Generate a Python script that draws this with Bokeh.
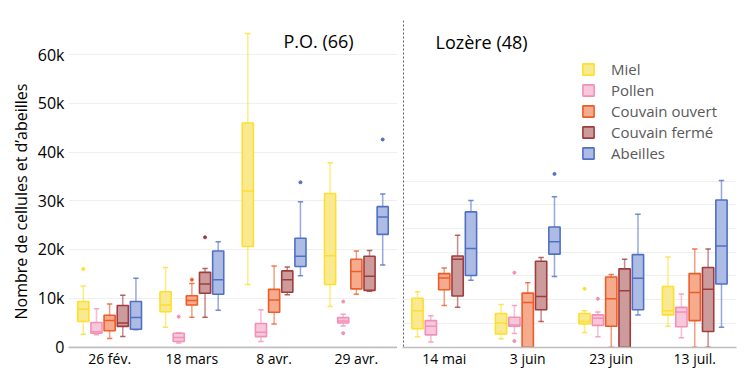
from bokeh.plotting import figure
from bokeh.models import Range1d, FixedTicker, Label, Span, Legend, LegendItem, Title
from bokeh.layouts import row
from bokeh.embed import file_html
from bokeh.resources import INLINE

FONT = "Open Sans"

# ---------------- data (values in thousands) ----------------
series = ["Miel", "Pollen", "Couvain ouvert", "Couvain fermé", "Abeilles"]
line_colors = ["#FDDF2E", "#F291B8", "#EE5C28", "#A23C3C", "#5070C4"]
fill_colors = ["#F9E98C", "#F7C4D9", "#F3A688", "#C99696", "#A9B8E3"]

po_dates = ["26 fév.", "18 mars", "8 avr.", "29 avr."]
lz_dates = ["14 mai", "3 juin", "23 juin", "13 juil."]

y_ticks = [0, 10, 20, 30, 40, 50, 60]
y_tick_labels = ["0", "10k", "20k", "30k", "40k", "50k", "60k"]
lz_grid_ticks = [0, 5, 10, 15, 20, 25, 30, 35]

# P.O. (66): per series, one value per date
po_lo = [[2.6, 4.0, 12.8, 8.3],
         [2.5, 0.8, 1.1, 4.3],
         [1.7, 6.1, 4.7, 10.8],
         [2.1, 6.1, 10.7, 11.4],
         [3.5, 7.5, 14.6, 16.8]]
po_q1 = [[5.2, 7.2, 20.6, 12.8],
         [2.8, 1.1, 2.1, 4.9],
         [3.3, 8.6, 7.1, 11.9],
         [4.2, 11.0, 11.2, 11.6],
         [3.6, 10.8, 16.5, 23.1]]
po_med = [[7.7, 8.6, 32.0, 18.7],
          [3.1, 1.9, 3.0, 5.3],
          [5.4, 9.5, 9.6, 15.5],
          [4.9, 12.9, 13.8, 14.5],
          [6.0, 13.8, 18.6, 26.7]]
po_q3 = [[9.3, 11.3, 46.0, 31.5],
         [5.0, 2.8, 4.8, 6.0],
         [6.5, 10.5, 11.8, 18.0],
         [8.5, 15.3, 15.6, 18.6],
         [9.3, 19.7, 22.3, 28.8]]
po_hi = [[12.5, 16.3, 64.4, 37.8],
         [7.8, 2.9, 7.6, 6.7],
         [8.8, 13.0, 16.6, 19.7],
         [10.6, 16.1, 16.4, 19.8],
         [14.1, 21.6, 29.8, 31.4]]
po_out_date = [0, 1, 3, 3, 1, 1, 2, 3]
po_out_series = [0, 1, 1, 1, 2, 3, 4, 4]
po_out_value = [16.0, 6.2, 9.3, 2.8, 13.8, 22.5, 33.8, 42.6]

# Lozère (48)
lz_lo = [[2.2, 1.8, 3.1, 4.4],
         [1.1, 2.9, 2.2, 2.0],
         [8.8, 0.0, 0.0, 0.0],
         [8.4, 5.4, 0.0, 0.0],
         [14.1, 14.9, 6.8, 4.2]]
lz_q1 = [[3.9, 2.8, 4.9, 6.8],
         [2.6, 4.4, 4.6, 4.3],
         [12.1, 0.0, 4.4, 5.6],
         [10.8, 7.9, 0.0, 3.3],
         [15.1, 19.6, 7.9, 13.3]]
lz_med = [[7.7, 5.1, 5.4, 7.7],
          [4.4, 4.7, 6.1, 7.4],
          [14.6, 9.4, 10.2, 11.5],
          [18.5, 10.7, 11.9, 12.2],
          [20.8, 22.2, 14.5, 21.3]]
lz_q3 = [[10.3, 7.1, 7.1, 12.8],
         [5.6, 6.3, 6.8, 8.4],
         [15.5, 11.4, 14.8, 15.5],
         [19.2, 18.1, 16.5, 16.8],
         [28.5, 25.3, 19.5, 31.0]]
lz_hi = [[11.7, 9.0, 7.7, 19.0],
         [6.6, 8.8, 7.4, 11.2],
         [16.7, 13.6, 15.3, 20.7],
         [23.6, 18.9, 18.5, 20.7],
         [30.9, 31.7, 28.0, 35.1]]
lz_out_date = [2, 1, 1, 2, 1]
lz_out_series = [0, 1, 1, 1, 4]
lz_out_value = [12.3, 15.7, 1.3, 10.2, 36.5]

OFFSETS = [-0.32, -0.16, 0.0, 0.16, 0.32]
BOX_W = 0.135
CAP_W = 0.065


def style(p, dates):
    p.outline_line_color = None
    p.background_fill_color = "white"
    p.border_fill_color = "white"
    p.xgrid.grid_line_color = None
    p.ygrid.grid_line_color = "#EFEFEF"
    p.ygrid.grid_line_width = 1
    xa = p.xaxis[0]
    xa.ticker = FixedTicker(ticks=[0.5, 1.5, 2.5, 3.5])
    xa.major_label_overrides = {0.5 + i: d for i, d in enumerate(dates)}
    xa.major_tick_line_color = None
    xa.minor_tick_line_color = None
    xa.major_tick_out = 0
    xa.major_tick_in = 0
    xa.minor_tick_out = 0
    xa.minor_tick_in = 0
    xa.major_label_standoff = 1
    xa.axis_line_color = "#BDBDBD"
    xa.axis_line_width = 1.5
    xa.major_label_text_font = FONT
    xa.major_label_text_font_size = "14px"
    xa.major_label_text_color = "#000000"


def draw_panel(p, lo, q1, med, q3, hi, od, os_, ov):
    boxes = []
    for s in range(5):
        lc = line_colors[s]
        fc = fill_colors[s]
        xs = [i + 0.5 + OFFSETS[s] for i in range(4)]
        # whiskers
        p.segment(x0=xs, y0=q3[s], x1=xs, y1=hi[s], line_color=lc, line_alpha=0.6, line_width=1.5)
        p.segment(x0=xs, y0=lo[s], x1=xs, y1=q1[s], line_color=lc, line_alpha=0.6, line_width=1.5)
        # caps
        xl = [x - CAP_W / 2 for x in xs]
        xr = [x + CAP_W / 2 for x in xs]
        p.segment(x0=xl, y0=hi[s], x1=xr, y1=hi[s], line_color=lc, line_alpha=0.8, line_width=1.5)
        p.segment(x0=xl, y0=lo[s], x1=xr, y1=lo[s], line_color=lc, line_alpha=0.8, line_width=1.5)
        # boxes
        b = p.vbar(x=xs, width=BOX_W, bottom=q1[s], top=q3[s], fill_color=fc, fill_alpha=0.95,
                   line_color=lc, line_width=1.6)
        boxes.append(b)
        # medians
        bl = [x - BOX_W / 2 for x in xs]
        br = [x + BOX_W / 2 for x in xs]
        p.segment(x0=bl, y0=med[s], x1=br, y1=med[s], line_color=lc, line_width=1.5)
    # outliers
    ox = [od[k] + 0.5 + OFFSETS[os_[k]] for k in range(len(od))]
    oc = [line_colors[os_[k]] for k in range(len(od))]
    p.scatter(x=ox, y=ov, size=3, fill_color=oc, line_color=oc)
    return boxes


# ---------------- left panel: P.O. ----------------
left = figure(width=397, height=370, x_range=Range1d(0, 4), y_range=Range1d(-0.14, 67.05),
              output_backend="svg", toolbar_location=None,
              min_border_left=68, min_border_right=0, min_border_top=20, min_border_bottom=23)
style(left, po_dates)
ya = left.yaxis[0]
ya.ticker = FixedTicker(ticks=y_ticks)
ya.major_label_overrides = {t: l for t, l in zip(y_ticks, y_tick_labels)}
ya.axis_line_color = None
ya.major_tick_line_color = None
ya.minor_tick_line_color = None
ya.major_tick_out = 0
ya.major_tick_in = 0
ya.minor_tick_out = 0
ya.minor_tick_in = 0
ya.major_label_standoff = 4
ya.major_label_text_font = FONT
ya.major_label_text_font_size = "16px"
ya.major_label_text_color = "#000000"

draw_panel(left, po_lo, po_q1, po_med, po_q3, po_hi, po_out_date, po_out_series, po_out_value)

left.add_layout(Label(x=2.614, y=62.8, text="P.O. (66)", text_font=FONT, text_font_size="18px",
                      text_color="#000000", text_baseline="middle", text_align="left"))
left.add_layout(Title(text="Nombre de cellules et d\u2019abeilles", align="left", offset=28,
                      text_font=FONT, text_font_size="16px", text_font_style="normal",
                      text_color="#000000", standoff=6), "left")

# ---------------- right panel: Lozère ----------------
right = figure(width=355, height=370, x_range=Range1d(0, 4), y_range=Range1d(-0.06, 68.8),
               output_backend="svg", toolbar_location=None,
               min_border_left=5, min_border_right=16, min_border_top=20, min_border_bottom=21)
style(right, lz_dates)
right.yaxis.visible = False
right.ygrid[0].ticker = FixedTicker(ticks=lz_grid_ticks)

lz_boxes = draw_panel(right, lz_lo, lz_q1, lz_med, lz_q3, lz_hi, lz_out_date, lz_out_series, lz_out_value)

right.add_layout(Span(location=0.012, dimension="height", line_color="#606060",
                      line_width=1, line_dash="2 2"))
right.add_layout(Label(x=0.395, y=64.3, text="Lozère (48)", text_font=FONT, text_font_size="18px",
                       text_color="#000000", text_baseline="middle", text_align="left"))

items = [LegendItem(label=series[s], renderers=[lz_boxes[s]]) for s in range(5)]
legend = Legend(items=items, location=(179, 184), orientation="vertical",
                glyph_width=14, glyph_height=14, label_height=14, spacing=1,
                padding=0, margin=0, border_line_color=None, background_fill_alpha=0,
                label_standoff=16, label_text_font=FONT, label_text_font_size="15px",
                label_text_color="#595959", label_text_baseline="middle")
right.add_layout(legend)

page = row(left, right, spacing=0)
open("out.html", "w").write(file_html(page, INLINE))
